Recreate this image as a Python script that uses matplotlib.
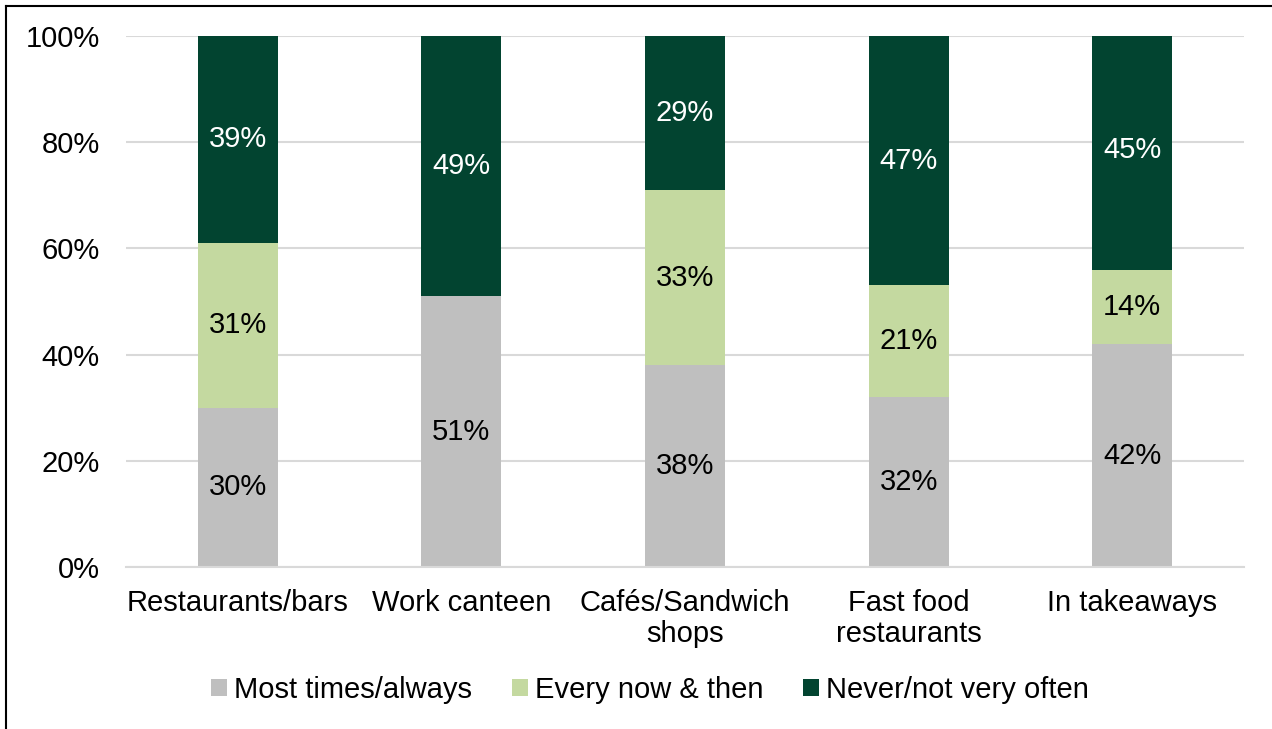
import matplotlib.pyplot as plt
from matplotlib.lines import Line2D
from matplotlib.ticker import PercentFormatter

plt.rcParams['font.family'] = ['Liberation Sans', 'DejaVu Sans']

categories = ['Restaurants/bars', 'Work canteen', 'Cafés/Sandwich\nshops',
              'Fast food\nrestaurants', 'In takeaways']
most_times = [30, 51, 38, 32, 42]
now_and_then = [31, 0, 33, 21, 14]
never = [39, 49, 29, 47, 45]

series = [
    ('Most times/always', most_times, '#BFBFBF', 'black'),
    ('Every now & then', now_and_then, '#C4D9A0', 'black'),
    ('Never/not very often', never, '#024430', 'white'),
]

fs = 21

fig = plt.figure(figsize=(12.72, 7.29), dpi=100)
ax = fig.add_axes([0.099, 0.222, 0.879, 0.729])

x = list(range(len(categories)))
bottom = [0] * len(categories)
for name, vals, color, txt in series:
    ax.bar(x, vals, width=0.357, bottom=bottom, color=color, label=name, zorder=2)
    for i, v in enumerate(vals):
        if v > 0:
            ax.text(i, bottom[i] + v / 2, f'{v}%', ha='center', va='center',
                    fontsize=fs, color=txt, zorder=3)
    bottom = [b + v for b, v in zip(bottom, vals)]

ax.set_xlim(-0.5, len(categories) - 0.5)
ax.set_ylim(0, 100)
ax.set_yticks(range(0, 101, 20))
ax.yaxis.set_major_formatter(PercentFormatter(decimals=0))
ax.set_xticks(x)
ax.set_xticklabels(categories, linespacing=1.12)
ax.tick_params(axis='both', length=0, labelsize=fs)
ax.tick_params(axis='x', pad=16)
ax.tick_params(axis='y', pad=19)
ax.grid(axis='y', color='#D9D9D9', linewidth=1.5, zorder=0)
for side in ['top', 'right', 'left']:
    ax.spines[side].set_visible(False)
ax.spines['bottom'].set_color('#D9D9D9')
ax.spines['bottom'].set_linewidth(1.5)

fig.legend(loc='center', bbox_to_anchor=(650 / 1272, 39 / 729), ncol=3,
           frameon=False, fontsize=fs, handlelength=0.55, handleheight=0.55,
           handletextpad=0.25, columnspacing=1.35)

# outer frame on left and top
fig.add_artist(Line2D([6 / 1272, 6 / 1272], [0, 1 - 6 / 729], color='black',
                      linewidth=1.5, transform=fig.transFigure))
fig.add_artist(Line2D([6 / 1272, 1], [1 - 6 / 729, 1 - 6 / 729], color='black',
                      linewidth=1.5, transform=fig.transFigure))

fig.savefig('out.png', dpi=100)
